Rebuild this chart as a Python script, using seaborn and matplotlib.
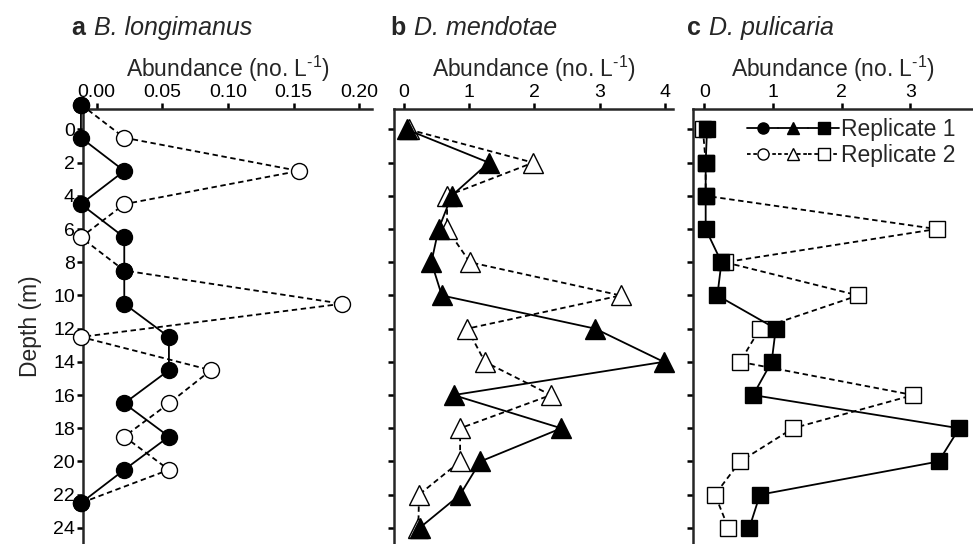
import numpy as np
import pandas as pd
import matplotlib
matplotlib.use("Agg")
import matplotlib.pyplot as plt
from matplotlib.lines import Line2D
from matplotlib.legend_handler import HandlerTuple
import seaborn as sns

# depths (m)
depth_a = [-1.5, 0.5, 2.5, 4.5, 6.5, 8.5, 10.5, 12.5, 14.5, 16.5, 18.5, 20.5, 22.5]
depth_bc = [0, 2, 4, 6, 8, 10, 12, 14, 16, 18, 20, 22, 24]

# a  B. longimanus
blong_rep1 = [-0.012, -0.012, 0.021, -0.012, 0.021, 0.021, 0.021, 0.055, 0.055, 0.021, 0.055, 0.021, -0.012]
blong_rep2 = [-0.012, 0.021, 0.154, 0.021, -0.012, 0.021, 0.187, -0.012, 0.087, 0.055, 0.021, 0.055, -0.012]

# b  D. mendotae
dmend_rep1 = [0.04, 1.30, 0.73, 0.53, 0.42, 0.58, 2.93, 3.98, 0.76, 2.41, 1.17, 0.86, 0.24]
dmend_rep2 = [0.07, 1.98, 0.66, 0.66, 1.01, 3.32, 0.97, 1.24, 2.25, 0.86, 0.86, 0.23, 0.22]

# c  D. pulicaria
dpul_rep1 = [0.04, 0.02, 0.02, 0.02, 0.25, 0.19, 1.04, 0.98, 0.71, 3.71, 3.41, 0.81, 0.655]
dpul_rep2 = [-0.02, 0.02, 0.02, 3.38, 0.30, 2.24, 0.81, 0.52, 3.04, 1.29, 0.52, 0.155, 0.35]

panel_letters = ["a", "b", "c"]
species = ["B. longimanus", "D. mendotae", "D. pulicaria"]
x_ticks = [[0.00, 0.05, 0.10, 0.15, 0.20], [0, 1, 2, 3, 4], [0, 1, 2, 3]]
x_ticklabels = [["0.00", "0.05", "0.10", "0.15", "0.20"], ["0", "1", "2", "3", "4"], ["0", "1", "2", "3"]]
y_ticks = list(range(0, 25, 2))
legend_labels = ["Replicate 1", "Replicate 2"]

sns.set_style("ticks")
plt.rcParams["font.family"] = ["Liberation Sans", "DejaVu Sans"]
plt.rcParams["mathtext.fontset"] = "custom"
plt.rcParams["mathtext.rm"] = "Liberation Sans"
plt.rcParams["mathtext.it"] = "Liberation Sans:italic"

W, H = 973, 544
fig = plt.figure(figsize=(W / 100, H / 100), dpi=100)

# axes boxes in pixels: left, right
boxes = [(83.3, 371.7), (394.0, 673.3), (693.3, 973.0)]
top_px = 109.0
xlims = [(-0.0102, 0.2094), (-0.153, 4.127), (-0.16, 3.91)]
title_x = [71.7, 390.7, 686.7]

markers = ["o", "^", "s"]
msizes = [11.5, 14, 11]
data = [(depth_a, blong_rep1, blong_rep2),
        (depth_bc, dmend_rep1, dmend_rep2),
        (depth_bc, dpul_rep1, dpul_rep2)]

axes = []
for i, (l, r) in enumerate(boxes):
    ax = fig.add_axes([l / W, 0, (r - l) / W, (H - top_px) / H])
    axes.append(ax)
    dep, r1, r2 = data[i]
    df = pd.DataFrame({"depth": dep, "rep1": r1, "rep2": r2})
    # replicate 2 underneath, dashed with open markers
    sns.lineplot(data=df, x="rep2", y="depth", sort=False, estimator=None, ax=ax,
                 color="black", lw=1.3, linestyle=(0, (3, 2)), marker=markers[i],
                 markersize=msizes[i], markerfacecolor="white", markeredgecolor="black",
                 markeredgewidth=1.0, clip_on=False, zorder=3)
    sns.lineplot(data=df, x="rep1", y="depth", sort=False, estimator=None, ax=ax,
                 color="black", lw=1.3, marker=markers[i],
                 markersize=msizes[i], markerfacecolor="black", markeredgecolor="black",
                 markeredgewidth=1.0, clip_on=False, zorder=4)
    ax.set_xlim(*xlims[i])
    ax.set_ylim(24.97, -1.23)
    ax.xaxis.tick_top()
    ax.xaxis.set_label_position("top")
    ax.set_xticks(x_ticks[i])
    ax.set_xticklabels(x_ticklabels[i])
    ax.set_yticks(y_ticks)
    ax.set_xlabel(r"Abundance (no. L$^{\text{-}1}$)", fontsize=16.5, labelpad=5)
    if i == 0:
        ax.set_ylabel("Depth (m)", fontsize=16.5, labelpad=8)
    else:
        ax.set_ylabel("")
        ax.set_yticklabels([])
    for s in ["right", "bottom"]:
        ax.spines[s].set_visible(False)
    for s in ["left", "top"]:
        ax.spines[s].set_linewidth(1.8)
    ax.tick_params(axis="both", width=1.8, length=4, labelsize=14, pad=2,
                   direction="out", colors="black")
    ax.patch.set_alpha(0)

    t = fig.text(title_x[i] / W, 1 - 35 / H, panel_letters[i], fontsize=18,
                 fontweight="bold", va="baseline", ha="left")
    ax.annotate(species[i], xy=(1, 0), xycoords=t, xytext=(6, 0),
                textcoords="offset points", fontsize=18, style="italic",
                va="bottom", ha="left", annotation_clip=False)

# legend in panel c
h1 = [Line2D([], [], color="black", lw=1.3, marker=m, markersize=8,
             markerfacecolor="black", markeredgecolor="black") for m in markers]
h2 = [Line2D([], [], color="black", lw=1.3, linestyle=(0, (2, 1.5)), marker=m, markersize=8,
             markerfacecolor="white", markeredgecolor="black", markeredgewidth=1.0) for m in markers]
axes[2].legend(handles=[tuple(h1), tuple(h2)], labels=legend_labels,
               handler_map={tuple: HandlerTuple(ndivide=None, pad=0)},
               loc="upper right", bbox_to_anchor=(0.955, 0.99), frameon=False,
               fontsize=16.5, handlelength=4.0, handletextpad=0.1,
               labelspacing=0.12, borderaxespad=0.1, borderpad=0.1)

fig.savefig("out.png", dpi=100)
